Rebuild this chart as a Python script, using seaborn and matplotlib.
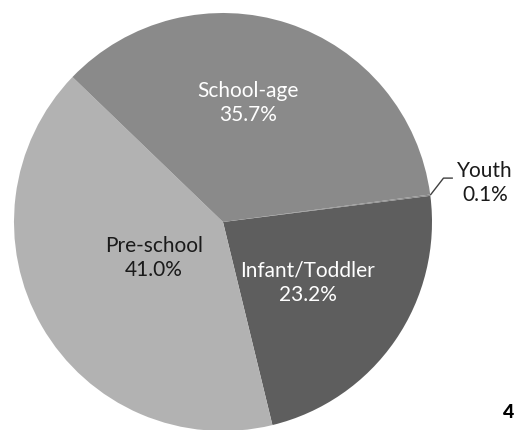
import matplotlib
matplotlib.use("Agg")
import matplotlib.pyplot as plt
import seaborn as sns
import numpy as np

sns.set_theme(style="white")
plt.rcParams['font.family'] = ['Lato', 'DejaVu Sans']

# Age-group shares (percent)
categories = ["Infant/Toddler", "Pre-school", "School-age", "Youth"]
shares = [23.2, 41.0, 35.7, 0.1]
colors = ["#5e5e5e", "#b2b2b2", "#8a8a8a", "#8a8a8a"]
text_colors = ["white", "#1a1a1a", "white", "#1a1a1a"]
page_number = "4"

W, H = 518, 430
fig = plt.figure(figsize=(W / 100, H / 100), dpi=100)
cx, cy, r = 223, 222, 209
ax = fig.add_axes([(cx - r) / W, (H - cy - r) / H, 2 * r / W, 2 * r / H])

wedges, _ = ax.pie(shares, colors=colors, startangle=7.2, counterclock=False,
                   radius=1, center=(0, 0), wedgeprops=dict(linewidth=0))
ax.set_xlim(-1, 1)
ax.set_ylim(-1, 1)
ax.set_aspect("equal")
ax.axis("off")

# label placement (data coordinates of the text centres)
label_pos = {
    "Infant/Toddler": (0.405, -0.29),
    "Pre-school": (-0.33, -0.17),
    "School-age": (0.12, 0.57),
    "Youth": (1.255, 0.185),
}
for cat, val, tc in zip(categories, shares, text_colors):
    x, y = label_pos[cat]
    ax.text(x, y, f"{cat}\n{val:.1f}%", ha="center", va="center",
            color=tc, fontsize=15, linespacing=1.25, clip_on=False)

# leader line to the tiny Youth slice
yw = wedges[3]
mid = np.deg2rad((yw.theta1 + yw.theta2) / 2)
p0 = (np.cos(mid), np.sin(mid))
ax.plot([p0[0], 1.055, 1.10], [p0[1], 0.21, 0.21], color="#404040",
        lw=1.0, clip_on=False, solid_capstyle="butt")

fig.text(509 / W, 1 - 412 / H, page_number, ha="center", va="center",
         fontsize=14, fontweight="black", color="black")

fig.savefig("out.png", dpi=100)
